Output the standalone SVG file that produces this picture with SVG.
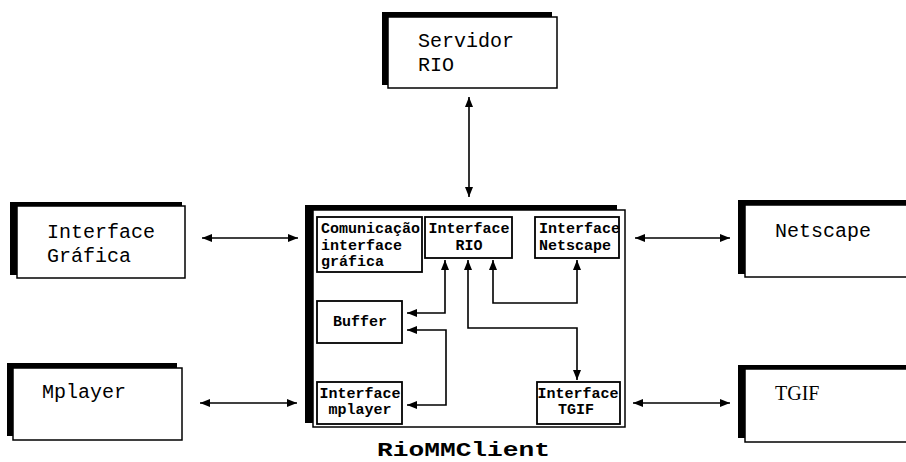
<svg xmlns="http://www.w3.org/2000/svg" width="906" height="462" viewBox="0 0 906 462">
<defs>
<marker id="ah" viewBox="0 0 10 8" refX="10" refY="4" markerWidth="10" markerHeight="8" markerUnits="userSpaceOnUse" orient="auto-start-reverse">
<path d="M0,0 L10,4 L0,8 z" fill="#000"/>
</marker>
<style>
.shadow{fill:#000}
.box{fill:#fff;stroke:#000;stroke-width:1.5}
.ibox{fill:#fff;stroke:#000;stroke-width:1.8}
.lbl{font-family:"Liberation Mono","Courier New",monospace;font-size:20px;fill:#000}
.ilbl{font-family:"Liberation Mono","Courier New",monospace;font-size:15px;font-weight:bold;fill:#000}
.conn{fill:none;stroke:#000;stroke-width:1.6;marker-start:url(#ah);marker-end:url(#ah)}
</style>
</defs>
<rect width="906" height="462" fill="#fff"/>

<g id="servidor-rio">
<rect class="shadow" x="382" y="12" width="170" height="73"/>
<rect class="box" x="388" y="17" width="169" height="71"/>
<text class="lbl" x="418" y="47">Servidor</text>
<text class="lbl" x="418" y="71">RIO</text>
</g>

<g id="interface-grafica">
<rect class="shadow" x="10" y="202" width="172" height="73"/>
<rect class="box" x="17" y="206" width="168" height="72"/>
<text class="lbl" x="47" y="238">Interface</text>
<text class="lbl" x="47" y="262">Gráfica</text>
</g>

<g id="netscape">
<rect class="shadow" x="738" y="200" width="170" height="74"/>
<rect class="box" x="745" y="205" width="170" height="72"/>
<text class="lbl" x="775" y="237">Netscape</text>
</g>

<g id="mplayer">
<rect class="shadow" x="7" y="363" width="170" height="73"/>
<rect class="box" x="13" y="368" width="169" height="72"/>
<text class="lbl" x="42" y="398">Mplayer</text>
</g>

<g id="tgif">
<rect class="shadow" x="738" y="365" width="170" height="73"/>
<rect class="box" x="745" y="369" width="170" height="73"/>
<text x="775" y="400" style="font-family:'Liberation Serif','Times New Roman',serif;font-size:20px;fill:#000">TGIF</text>
</g>

<g id="riommclient">
<rect class="shadow" x="305" y="205" width="312" height="218"/>
<rect class="box" x="313" y="210" width="312" height="217"/>
<text x="377" y="456" textLength="173" lengthAdjust="spacingAndGlyphs" style="font-family:'Liberation Mono','Courier New',monospace;font-size:20px;font-weight:bold;fill:#000">RioMMClient</text>
</g>

<g id="comunicacao">
<rect class="ibox" x="317" y="217" width="105" height="55"/>
<text class="ilbl" x="321" y="233">Comunicação</text>
<text class="ilbl" x="321" y="250">interface</text>
<text class="ilbl" x="321" y="266">gráfica</text>
</g>

<g id="interface-rio">
<rect class="ibox" x="425" y="217" width="87" height="41"/>
<text class="ilbl" x="469" y="233" text-anchor="middle">Interface</text>
<text class="ilbl" x="469" y="250" text-anchor="middle">RIO</text>
</g>

<g id="interface-netscape">
<rect class="ibox" x="535" y="217" width="84" height="41"/>
<text class="ilbl" x="539" y="233">Interface</text>
<text class="ilbl" x="539" y="250">Netscape</text>
</g>

<g id="buffer">
<rect class="ibox" x="317" y="301" width="85" height="42"/>
<text class="ilbl" x="360" y="326" text-anchor="middle">Buffer</text>
</g>

<g id="interface-mplayer">
<rect class="ibox" x="317" y="382" width="85" height="42"/>
<text class="ilbl" x="360" y="398" text-anchor="middle">Interface</text>
<text class="ilbl" x="360" y="414" text-anchor="middle">mplayer</text>
</g>

<g id="interface-tgif">
<rect class="ibox" x="537" y="382" width="83" height="42"/>
<text class="ilbl" x="578" y="398" text-anchor="middle">Interface</text>
<text class="ilbl" x="576" y="414" text-anchor="middle">TGIF</text>
</g>

<g id="connectors">
<path class="conn" d="M469,97 V197"/>
<path class="conn" d="M202,238 H298"/>
<path class="conn" d="M635,238 H730"/>
<path class="conn" d="M200,403 H297"/>
<path class="conn" d="M633,403 H730"/>
<path class="conn" d="M445,260 V313 H407"/>
<path class="conn" d="M407,330 H446 V405 H407"/>
<path class="conn" d="M468,260 V328 H577 V380"/>
<path class="conn" d="M493,260 V303 H577 V260"/>
</g>
</svg>
